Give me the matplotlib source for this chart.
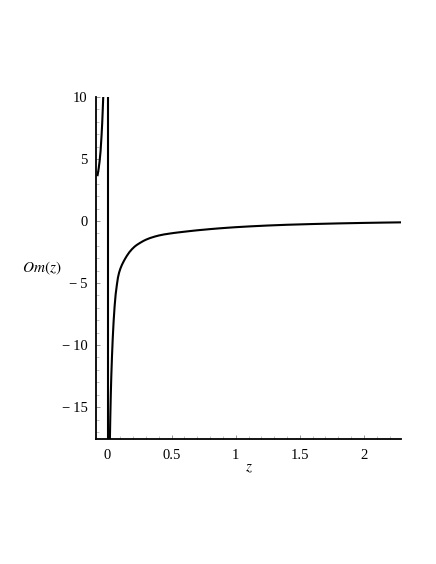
import matplotlib
matplotlib.use("Agg")
import matplotlib.pyplot as plt
from matplotlib.ticker import MultipleLocator

plt.rcParams['font.family'] = ['Liberation Serif', 'DejaVu Serif']
plt.rcParams['mathtext.fontset'] = 'stix'

# values
z_left = [-0.078, -0.070, -0.0625, -0.055, -0.047, -0.042, -0.038, -0.034]
om_left = [3.7, 4.2, 4.8, 5.6, 6.9, 7.9, 8.9, 10.0]

z_pole = 0.0

z_right = [0.018, 0.021, 0.025, 0.029, 0.034, 0.040, 0.047, 0.055, 0.063,
           0.073, 0.081, 0.090, 0.100, 0.112, 0.125, 0.135, 0.15, 0.17,
           0.19, 0.21, 0.226, 0.25, 0.28, 0.30, 0.33, 0.37, 0.40, 0.44,
           0.487, 0.52, 0.565, 0.65, 0.70, 0.80, 0.87, 0.95, 1.0, 1.11,
           1.25, 1.4, 1.6, 1.8, 2.0, 2.15, 2.29]
om_right = [-17.6, -15.9, -14.0, -12.5, -11.0, -9.5, -8.1, -6.85, -5.9,
            -5.1, -4.55, -4.15, -3.83, -3.53, -3.26, -3.07, -2.81, -2.51,
            -2.27, -2.07, -1.94, -1.78, -1.6, -1.5, -1.375, -1.245, -1.165,
            -1.08, -1.005, -0.957, -0.9, -0.8, -0.745, -0.65, -0.59, -0.53,
            -0.495, -0.43, -0.36, -0.3, -0.24, -0.19, -0.15, -0.125, -0.105]

x_ticks = [0, 0.5, 1, 1.5, 2]
x_labels = ['0', '0.5', '1', '1.5', '2']
y_ticks = [-15, -10, -5, 0, 5, 10]
y_labels = ['\u2212\u200915', '\u2212\u200910', '\u2212\u20095', '0', '5', '10']

fig = plt.figure(figsize=(4.36, 5.64), dpi=100)
ax = fig.add_axes([0.220, 0.221, 0.700, 0.607])

ax.plot(z_left, om_left, color='black', lw=1.5)
ax.axvline(z_pole, color='black', lw=1.5)
ax.plot(z_right, om_right, color='black', lw=1.5)

ax.set_xlim(-0.091, 2.29)
ax.set_ylim(-17.6, 10)

for side in ['top', 'right']:
    ax.spines[side].set_visible(False)
for side in ['left', 'bottom']:
    ax.spines[side].set_linewidth(1.3)

ax.set_xticks(x_ticks)
ax.set_xticklabels(x_labels)
ax.set_yticks(y_ticks)
ax.set_yticklabels(y_labels)
ax.xaxis.set_minor_locator(MultipleLocator(0.1))
ax.yaxis.set_minor_locator(MultipleLocator(1))
ax.tick_params(which='major', direction='in', length=3, width=0.6,
               labelsize=10.5, color='#888888')
ax.tick_params(which='minor', direction='in', length=2, width=0.5,
               color='#aaaaaa')
ax.tick_params(axis='x', which='major', pad=7)
ax.tick_params(axis='y', which='major', pad=6)

ax.set_xlabel('$z$', fontsize=11, labelpad=0)
ax.text(-0.177, 0.50, '$Om(z)$', transform=ax.transAxes, fontsize=11,
        ha='center', va='center')

fig.savefig('out.png', dpi=100)
